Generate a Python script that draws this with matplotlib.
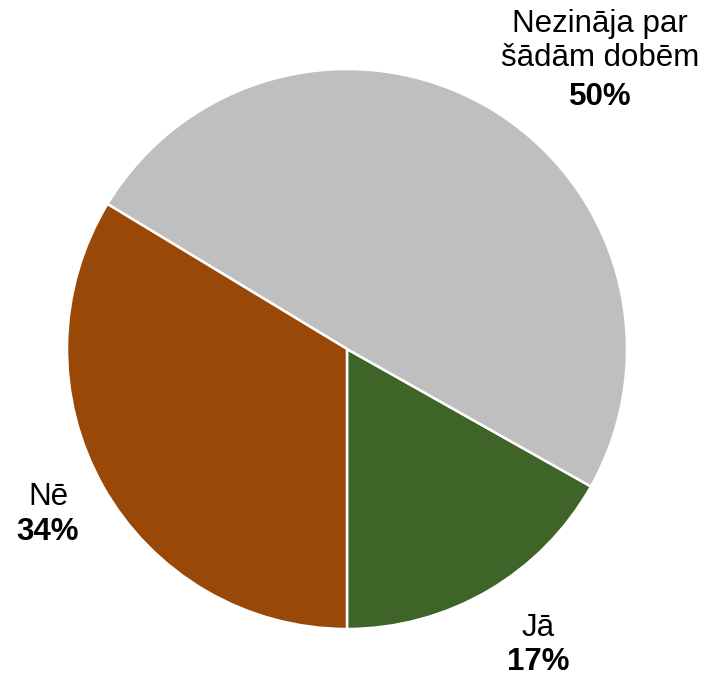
import matplotlib
matplotlib.use('Agg')
import matplotlib.pyplot as plt

# data ---------------------------
labels = ['Jā', 'Nezināja par\nšādām dobēm', 'Nē']
values = [17, 50, 34]
pct_text = ['17%', '50%', '34%']
colors = ['#3E6428', '#BFBFBF', '#9A4808']

plt.rcParams['font.family'] = ['Liberation Sans', 'DejaVu Sans']

fig = plt.figure(figsize=(7.07, 6.76), dpi=100)
ax = fig.add_axes([0, 0, 1, 1])

# pie centre at pixel (347,349), radius 280 px
cx, cy, r = 347, 349, 280
W, H = 707, 676
ax.pie(values, colors=colors, startangle=-90, counterclock=True,
       wedgeprops=dict(edgecolor='white', linewidth=1.8))
ax.set_xlim(-cx / r, (W - cx) / r)
ax.set_ylim(-(H - cy) / r, cy / r)
ax.set_aspect('equal')
ax.axis('off')

# label anchors (pixel centres of name / percent lines)
name_pos = [(538, 628), (600, 41), (48, 497)]
pct_pos = [(538, 662), (600, 97), (48, 532)]

for lab, pct, (nx, ny), (px, py) in zip(labels, pct_text, name_pos, pct_pos):
    ax.text((nx - cx) / r, (cy - ny) / r, lab, ha='center', va='center',
            fontsize=22.5, linespacing=1.17)
    ax.text((px - cx) / r, (cy - py) / r, pct, ha='center', va='center',
            fontsize=22.5, fontweight='bold')

fig.savefig('out.png', dpi=100)
